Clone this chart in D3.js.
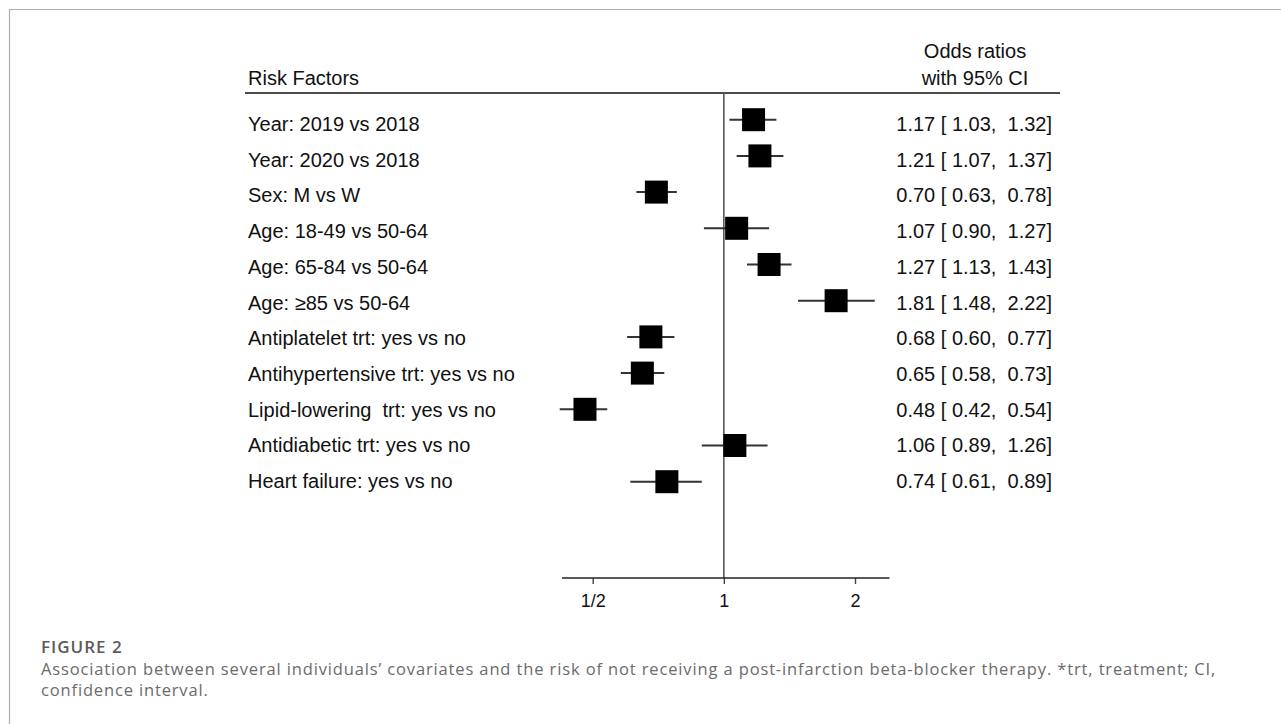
<!DOCTYPE html>
<html>
<head>
<meta charset="utf-8">
<script src="https://cdn.jsdelivr.net/npm/d3@7"></script>
<style>
  body { margin: 0; background: #fff; }
  #wrap { position: relative; width: 1281px; height: 724px; overflow: hidden; }
  #caption {
    position: absolute; left: 41px; top: 636px; width: 1175px;
    font-family: "Open Sans", "Noto Sans", sans-serif; color: #6b6b6b;
    font-size: 16.5px; line-height: 21.5px; letter-spacing: 0.85px;
    text-align: justify;
  }
  #caption b { color: #5a5a5a; font-weight: 600; font-size: 17px; letter-spacing: 1px; display: block; }
</style>
</head>
<body>
<div id="wrap">
  <svg id="chart" width="1281" height="724"></svg>
  <div id="caption"><b>FIGURE 2</b>Association between several individuals’ covariates and the risk of not receiving a post-infarction beta-blocker therapy. *trt, treatment; CI, confidence interval.</div>
</div>
<script>
// forest plot data (odds ratio, 95% CI)
const factors = [
  "Year: 2019 vs 2018",
  "Year: 2020 vs 2018",
  "Sex: M vs W",
  "Age: 18-49 vs 50-64",
  "Age: 65-84 vs 50-64",
  "Age: \u226585 vs 50-64",
  "Antiplatelet trt: yes vs no",
  "Antihypertensive trt: yes vs no",
  "Lipid-lowering  trt: yes vs no",
  "Antidiabetic trt: yes vs no",
  "Heart failure: yes vs no"
]
const oddsRatio = [1.17, 1.21, 0.70, 1.07, 1.27, 1.81, 0.68, 0.65, 0.48, 1.06, 0.74]
const ciLow     = [1.03, 1.07, 0.63, 0.90, 1.13, 1.48, 0.60, 0.58, 0.42, 0.89, 0.61]
const ciHigh    = [1.32, 1.37, 0.78, 1.27, 1.43, 2.22, 0.77, 0.73, 0.54, 1.26, 0.89]
const tickValues = [0.5, 1, 2]
const tickLabels = ["1/2", "1", "2"]
const axisExtent = [0.425, 2.4]

const svg = d3.select("#chart")
const font = "Liberation Sans, Arial, sans-serif"

// page frame
svg.append("line").attr("x1", 9).attr("x2", 1281).attr("y1", 9.5).attr("y2", 9.5)
  .attr("stroke", "#b0b0b0").attr("stroke-width", 1.2)
svg.append("line").attr("x1", 9.5).attr("x2", 9.5).attr("y1", 9).attr("y2", 724)
  .attr("stroke", "#b0b0b0").attr("stroke-width", 1.2)

const x = d3.scaleLog().base(2).domain([0.5, 2]).range([592.7, 855])
// markers and text rows sit on slightly different grids in the original
const y = d3.scaleBand().domain(factors).range([101.6, 101.6 + 36.2 * factors.length])
const yText = d3.scaleBand().domain(factors).range([106.2, 106.2 + 35.7 * factors.length])
const cy = d => y(d) + y.bandwidth() / 2
const ty = d => yText(d) + yText.bandwidth() / 2 + 7

const headerY = 93
const axisY = 578
const labelX = 248
const valueX = 1052
const box = 23

// header
svg.append("text").attr("x", labelX).attr("y", 85)
  .attr("font-family", font).attr("font-size", "20px").attr("fill", "#111")
  .text("Risk Factors")
svg.append("text").attr("x", 975).attr("y", 58).attr("text-anchor", "middle")
  .attr("font-family", font).attr("font-size", "20px").attr("fill", "#111")
  .text("Odds ratios")
svg.append("text").attr("x", 975).attr("y", 85).attr("text-anchor", "middle")
  .attr("font-family", font).attr("font-size", "20px").attr("fill", "#111")
  .text("with 95% CI")
svg.append("line").attr("x1", 245).attr("x2", 1060).attr("y1", headerY).attr("y2", headerY)
  .attr("stroke", "#111").attr("stroke-width", 1.6)

// reference line at OR = 1
svg.append("line").attr("x1", x(1)).attr("x2", x(1)).attr("y1", headerY).attr("y2", axisY)
  .attr("stroke", "#555").attr("stroke-width", 1.6)

// x axis
const axis = svg.append("g").attr("transform", `translate(0,${axisY})`)
  .call(d3.axisBottom(x).tickValues(tickValues).tickSize(6)
    .tickFormat((d, i) => tickLabels[i]))
axis.select(".domain").remove()
axis.append("line").attr("x1", x(axisExtent[0])).attr("x2", x(axisExtent[1]))
  .attr("stroke", "#222").attr("stroke-width", 1.4)
axis.selectAll(".tick line").attr("stroke", "#444").attr("stroke-width", 1.4)
axis.selectAll(".tick text").attr("y", 29).attr("dy", 0)
  .attr("font-family", font).attr("font-size", "18px").attr("fill", "#111")

// rows
const rows = svg.append("g")
factors.forEach((f, i) => {
  rows.append("text").attr("x", labelX).attr("y", ty(f))
    .attr("font-family", font).attr("font-size", "20px").attr("fill", "#111")
    .style("white-space", "pre")
    .text(f)

  rows.append("line").attr("x1", x(ciLow[i])).attr("x2", x(ciHigh[i]))
    .attr("y1", cy(f)).attr("y2", cy(f))
    .attr("stroke", "#333").attr("stroke-width", 2)

  rows.append("rect").attr("x", x(oddsRatio[i]) - box / 2).attr("y", cy(f) - box / 2)
    .attr("width", box).attr("height", box).attr("fill", "#000")

  const txt = `${oddsRatio[i].toFixed(2)} [ ${ciLow[i].toFixed(2)},  ${ciHigh[i].toFixed(2)}]`
  rows.append("text").attr("x", valueX).attr("y", ty(f)).attr("text-anchor", "end")
    .attr("font-family", font).attr("font-size", "20px").attr("fill", "#111")
    .style("white-space", "pre")
    .text(txt)
})
</script>
</body>
</html>
